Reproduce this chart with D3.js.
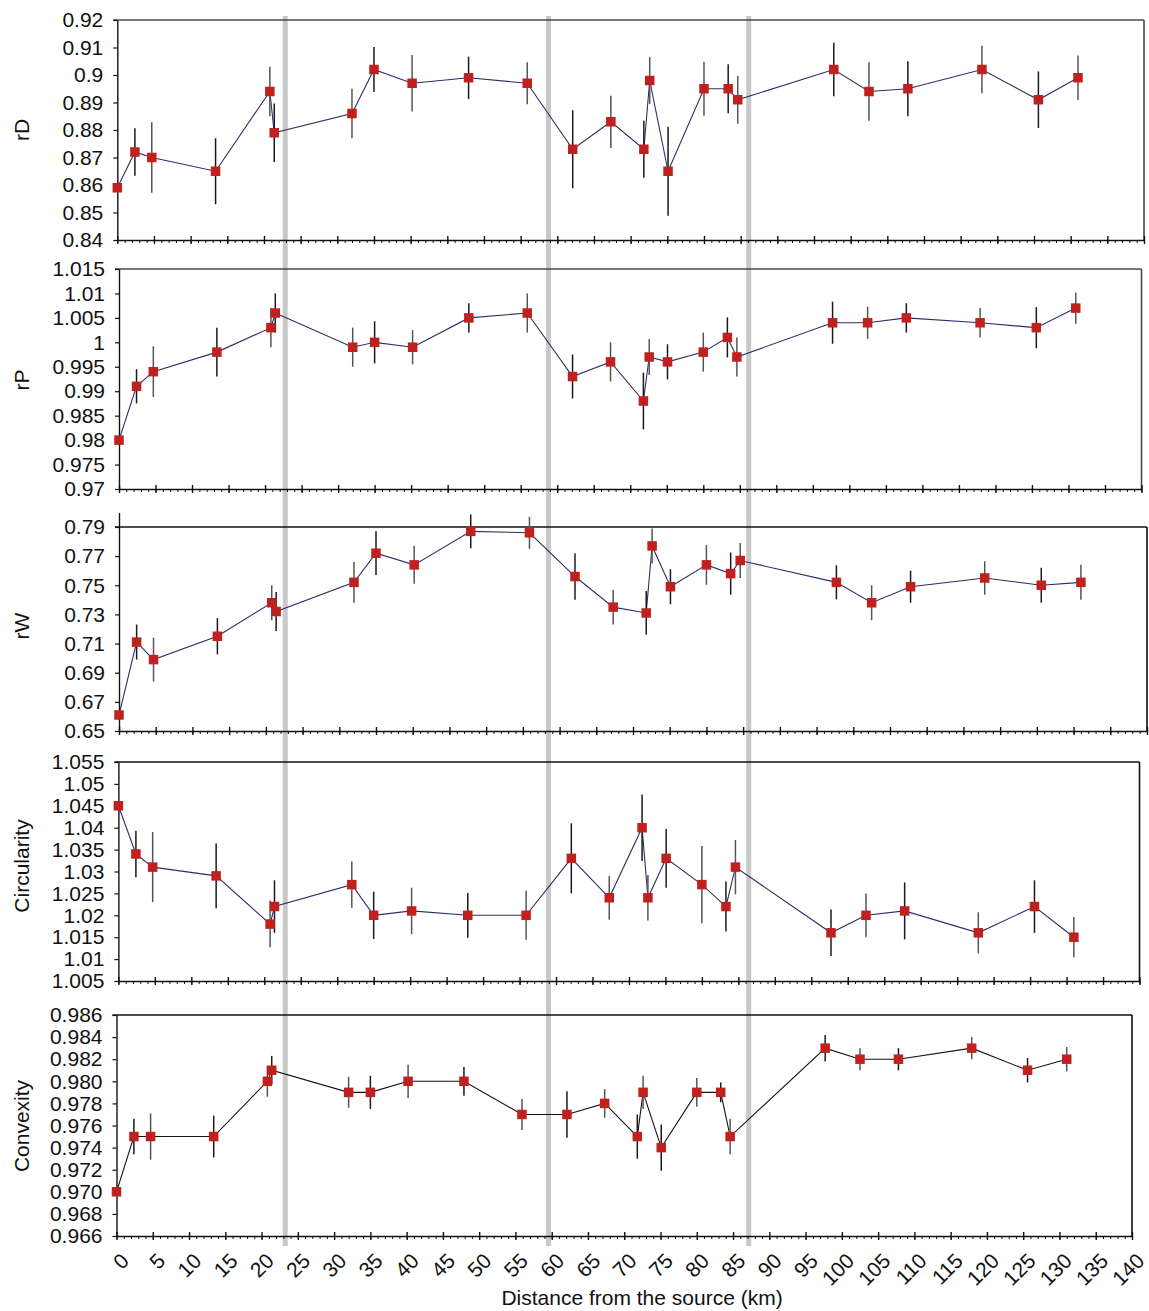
<!DOCTYPE html>
<html><head><meta charset="utf-8">
<script src="https://cdn.jsdelivr.net/npm/d3@7"></script>
<style>
body{margin:0;background:#fff}
svg{display:block}
text{font-family:"Liberation Sans",Arial,Helvetica,sans-serif}
</style>
</head><body>
<svg id="chart" width="1149" height="1311"></svg>
<script>
// ---------------- data ----------------
const distanceKm = [0, 2.4, 4.7, 13.4, 20.8, 21.4, 32.0, 35.0, 40.2, 47.9, 55.9, 62.1, 67.3, 71.8, 72.6, 75.1, 80.0, 83.3, 84.6, 97.7, 102.5, 107.8, 117.9, 125.6, 131.0];

const rD    = [0.859, 0.872, 0.870, 0.865, 0.894, 0.879, 0.886, 0.902, 0.897, 0.899, 0.897, 0.873, 0.883, 0.873, 0.898, 0.865, 0.895, 0.895, 0.891, 0.902, 0.894, 0.895, 0.902, 0.891, 0.899];
const rDErr = [0, 0.0086, 0.0128, 0.012, 0.009, 0.0106, 0.009, 0.0082, 0.0103, 0.0077, 0.0076, 0.0142, 0.0095, 0.0104, 0.0085, 0.0162, 0.0098, 0.0089, 0.0087, 0.0097, 0.0106, 0.010, 0.0086, 0.0103, 0.0081];

const rP    = [0.980, 0.991, 0.994, 0.998, 1.003, 1.006, 0.999, 1.000, 0.999, 1.005, 1.006, 0.993, 0.996, 0.988, 0.997, 0.996, 0.998, 1.001, 0.997, 1.004, 1.004, 1.005, 1.004, 1.003, 1.007];
const rPErr = [0, 0.0035, 0.0052, 0.005, 0.004, 0.004, 0.004, 0.0043, 0.0035, 0.003, 0.004, 0.0045, 0.004, 0.0058, 0.0037, 0.0036, 0.004, 0.0041, 0.004, 0.0043, 0.0033, 0.003, 0.003, 0.0042, 0.0032];

const rW    = [0.661, 0.711, 0.699, 0.715, 0.738, 0.732, 0.752, 0.772, 0.764, 0.787, 0.786, 0.756, 0.735, 0.731, 0.777, 0.749, 0.764, 0.758, 0.767, 0.752, 0.738, 0.749, 0.755, 0.750, 0.752];
const rWErr = [0, 0.012, 0.015, 0.0124, 0.012, 0.0134, 0.014, 0.015, 0.013, 0.0116, 0.011, 0.016, 0.012, 0.015, 0.012, 0.012, 0.0136, 0.0145, 0.012, 0.0117, 0.012, 0.011, 0.0115, 0.012, 0.012];

const circularity    = [1.045, 1.034, 1.031, 1.029, 1.018, 1.022, 1.027, 1.020, 1.021, 1.020, 1.020, 1.033, 1.024, 1.040, 1.024, 1.033, 1.027, 1.022, 1.031, 1.016, 1.020, 1.021, 1.016, 1.022, 1.015];
const circularityErr = [0, 0.0053, 0.008, 0.0074, 0.0053, 0.006, 0.0053, 0.0054, 0.0053, 0.0051, 0.0056, 0.008, 0.005, 0.0076, 0.0052, 0.0067, 0.0088, 0.0057, 0.0062, 0.0053, 0.005, 0.0065, 0.0047, 0.006, 0.0046];

const convexity    = [0.970, 0.975, 0.975, 0.975, 0.980, 0.981, 0.979, 0.979, 0.980, 0.980, 0.977, 0.977, 0.978, 0.975, 0.979, 0.974, 0.979, 0.979, 0.975, 0.983, 0.982, 0.982, 0.983, 0.981, 0.982];
const convexityErr = [0, 0.0016, 0.0021, 0.0019, 0.0014, 0.0013, 0.0014, 0.0015, 0.0015, 0.0013, 0.0014, 0.0021, 0.0013, 0.002, 0.0015, 0.0021, 0.0013, 0.0009, 0.0016, 0.0012, 0.001, 0.001, 0.001, 0.0011, 0.0011];

const rDTicks   = [0.84, 0.85, 0.86, 0.87, 0.88, 0.89, 0.90, 0.91, 0.92];
const rPTicks   = [0.97, 0.975, 0.98, 0.985, 0.99, 0.995, 1.0, 1.005, 1.01, 1.015];
const rWTicks   = [0.65, 0.67, 0.69, 0.71, 0.73, 0.75, 0.77, 0.79];
const circTicks = [1.005, 1.01, 1.015, 1.02, 1.025, 1.03, 1.035, 1.04, 1.045, 1.05, 1.055];
const convTicks = [0.966, 0.968, 0.970, 0.972, 0.974, 0.976, 0.978, 0.980, 0.982, 0.984, 0.986];
const xTicks    = [0,5,10,15,20,25,30,35,40,45,50,55,60,65,70,75,80,85,90,95,100,105,110,115,120,125,130,135,140];
const xMinorTicks = d3.range(0, 141, 1);
const boundaryKm = [22.9, 58.8, 86.1];

const xTitle = "Distance from the source (km)";

// ---------------- layout ----------------
const FS = 21;
const trim = d => String(+d.toFixed(3));
const fixed3 = d3.format(".3f");
const panels = [
  {name:"rD", vals:rD, errs:rDErr, ticks:rDTicks, dom:[0.84,0.92], frameTop:0.92, top:20, bottom:240, left:117.3, right:1144, fmt:trim, line:"#2d2d6a", frame:"#4a4a4a", titleY:130},
  {name:"rP", vals:rP, errs:rPErr, ticks:rPTicks, dom:[0.97,1.015], frameTop:1.015, top:269, bottom:489, left:119, right:1141.5, fmt:trim, line:"#2d2d6a", frame:"#4a4a4a", titleY:380},
  {name:"rW", vals:rW, errs:rWErr, ticks:rWTicks, dom:[0.65,0.80], frameTop:0.79, top:512.4, bottom:731, left:119, right:1147, fmt:trim, line:"#2d2d6a", frame:"#111", titleY:626},
  {name:"Circularity", vals:circularity, errs:circularityErr, ticks:circTicks, dom:[1.005,1.055], frameTop:1.055, top:762, bottom:981, left:118.4, right:1139.5, fmt:trim, line:"#2d2d6a", frame:"#111", titleY:866},
  {name:"Convexity", vals:convexity, errs:convexityErr, ticks:convTicks, dom:[0.966,0.986], frameTop:0.986, top:1015, bottom:1236, left:116.5, right:1132, fmt:fixed3, line:"#111", frame:"#111", titleY:1126}
];

const svg = d3.select("#chart");

// grey boundary lines (drawn first, behind everything)
const xRef = d3.scaleLinear().domain([0,140]).range([panels[0].left, panels[0].right]);
svg.append("g").selectAll("line").data(boundaryKm).join("line")
  .attr("x1", d => xRef(d)).attr("x2", d => xRef(d))
  .attr("y1", 16).attr("y2", 1246)
  .attr("stroke", "#c8c8c8").attr("stroke-width", 5);

panels.forEach((p, pi) => {
  const x = d3.scaleLinear().domain([0,140]).range([p.left, p.right]);
  const y = d3.scaleLinear().domain(p.dom).range([p.bottom, p.top]);
  const g = svg.append("g");
  const yTop = y(p.frameTop);

  // frame: top + right
  g.append("line").attr("x1", p.left - 4).attr("x2", p.right).attr("y1", yTop).attr("y2", yTop)
    .attr("stroke", p.frame).attr("stroke-width", 1.6);
  g.append("line").attr("x1", p.right).attr("x2", p.right).attr("y1", yTop).attr("y2", p.bottom)
    .attr("stroke", p.frame).attr("stroke-width", 1.6);

  // y axis
  const ya = g.append("g").attr("transform", `translate(${p.left},0)`)
    .call(d3.axisLeft(y).tickValues(p.ticks).tickFormat(p.fmt).tickSize(4).tickPadding(10).tickSizeOuter(0));
  ya.select(".domain").attr("stroke", "#111").attr("stroke-width", 1.4);
  ya.selectAll(".tick line").attr("stroke", "#111").attr("stroke-width", 1.2);
  ya.selectAll("text").attr("font-size", FS).attr("fill", "#111");

  // x axis: minor ticks
  const xm = g.append("g").attr("transform", `translate(0,${p.bottom})`)
    .call(d3.axisBottom(x).tickValues(xMinorTicks).tickSize(3).tickFormat("").tickSizeOuter(0));
  xm.select(".domain").attr("stroke", "#111").attr("stroke-width", 1.6);
  xm.selectAll(".tick line").attr("stroke", "#111").attr("stroke-width", 1);
  // major ticks (crossing)
  const xM = g.append("g").attr("transform", `translate(0,${p.bottom})`)
    .call(d3.axisBottom(x).tickValues(xTicks).tickSize(4).tickFormat(pi === 4 ? d3.format("d") : "").tickSizeOuter(0));
  xM.select(".domain").remove();
  xM.selectAll(".tick line").attr("y1", -4).attr("y2", 4).attr("stroke", "#111").attr("stroke-width", 1.4);
  if (pi === 4) {
    xM.selectAll("text")
      .attr("x", 0).attr("y", 0).attr("dy", "0.35em")
      .attr("text-anchor", "end")
      .attr("transform", "translate(8,21) rotate(-45)")
      .attr("font-size", FS).attr("fill", "#111");
  }

  // connecting line
  const pts = distanceKm.map((d, i) => ({d, v: p.vals[i], e: p.errs[i]}));
  g.append("path").datum(pts)
    .attr("d", d3.line().x(q => x(q.d)).y(q => y(q.v)))
    .attr("fill", "none").attr("stroke", p.line).attr("stroke-width", 1.1);

  // error bars
  g.append("g").selectAll("line").data(pts.filter(q => q.e > 0)).join("line")
    .attr("x1", q => x(q.d)).attr("x2", q => x(q.d))
    .attr("y1", q => y(q.v + q.e)).attr("y2", q => y(q.v - q.e))
    .attr("stroke", (q, i) => i % 2 ? "#555" : "#1a1a1a").attr("stroke-width", 1.5);

  // markers
  const s = 9.5;
  g.append("g").selectAll("rect").data(pts).join("rect")
    .attr("x", q => x(q.d) - s/2).attr("y", q => y(q.v) - s/2)
    .attr("width", s).attr("height", s)
    .attr("fill", "#c0201e");

  // y title
  svg.append("text")
    .attr("transform", `translate(29,${p.titleY}) rotate(-90)`)
    .attr("text-anchor", "middle").attr("font-size", FS).attr("fill", "#111")
    .text(p.name);
});

svg.append("text").attr("x", 642).attr("y", 1305).attr("text-anchor", "middle")
  .attr("font-size", FS).attr("fill", "#111").text(xTitle);
</script>
</body></html>
